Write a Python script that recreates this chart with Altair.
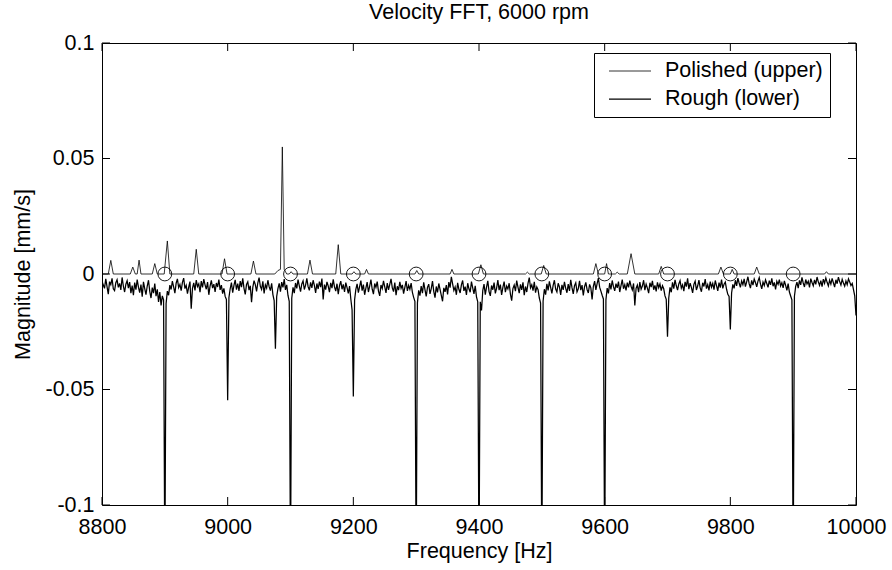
import altair as alt
import pandas as pd
import numpy as np

# ---------------- data ----------------
# Rough (lower) spectrum, sampled every 2 Hz from 8800 Hz, one row per 100 Hz
rough_rows = [
    [-0.0030,-0.0048,-0.0062,-0.0021,-0.0055,-0.0087,-0.0033,-0.0046,-0.0019,-0.0064,
     -0.0072,-0.0038,-0.0025,-0.0058,-0.0041,-0.0069,-0.0015,-0.0052,-0.0078,-0.0044,
     -0.0029,-0.0061,-0.0035,-0.0083,-0.0050,-0.0092,-0.0037,-0.0068,-0.0024,-0.0057,
     -0.0081,-0.0046,-0.0098,-0.0034,-0.0063,-0.0089,-0.0052,-0.0027,-0.0075,-0.0104,
     -0.0059,-0.0083,-0.0041,-0.0096,-0.0066,-0.0121,-0.0078,-0.0136,-0.0095,-0.0112],
    [-0.1300,-0.0128,-0.0074,-0.0092,-0.0048,-0.0067,-0.0031,-0.0056,-0.0083,-0.0040,
     -0.0021,-0.0059,-0.0045,-0.0072,-0.0036,-0.0018,-0.0063,-0.0049,-0.0085,-0.0057,
     -0.0033,-0.0150,-0.0062,-0.0038,-0.0071,-0.0026,-0.0054,-0.0043,-0.0079,-0.0031,
     -0.0058,-0.0022,-0.0047,-0.0066,-0.0035,-0.0090,-0.0052,-0.0028,-0.0061,-0.0044,
     -0.0077,-0.0039,-0.0056,-0.0024,-0.0069,-0.0048,-0.0085,-0.0062,-0.0097,-0.0110],
    [-0.0547,-0.0102,-0.0064,-0.0037,-0.0081,-0.0049,-0.0025,-0.0068,-0.0042,-0.0073,
     -0.0031,-0.0057,-0.0019,-0.0062,-0.0088,-0.0045,-0.0034,-0.0070,-0.0051,-0.0122,
     -0.0058,-0.0029,-0.0046,-0.0075,-0.0038,-0.0016,-0.0053,-0.0067,-0.0032,-0.0084,
     -0.0047,-0.0061,-0.0027,-0.0055,-0.0072,-0.0040,-0.0089,-0.0115,-0.0324,-0.0098,
     -0.0063,-0.0041,-0.0076,-0.0035,-0.0058,-0.0022,-0.0069,-0.0047,-0.0093,-0.0118],
    [-0.1300,-0.0105,-0.0058,-0.0083,-0.0039,-0.0062,-0.0024,-0.0051,-0.0076,-0.0043,
     -0.0030,-0.0067,-0.0048,-0.0019,-0.0055,-0.0071,-0.0036,-0.0060,-0.0027,-0.0049,
     -0.0082,-0.0041,-0.0065,-0.0033,-0.0057,-0.0020,-0.0110,-0.0046,-0.0068,-0.0034,
     -0.0052,-0.0079,-0.0038,-0.0061,-0.0023,-0.0056,-0.0074,-0.0042,-0.0087,-0.0050,
     -0.0031,-0.0066,-0.0045,-0.0078,-0.0037,-0.0059,-0.0084,-0.0052,-0.0108,-0.0155],
    [-0.0530,-0.0112,-0.0067,-0.0043,-0.0081,-0.0055,-0.0029,-0.0072,-0.0046,-0.0090,
     -0.0061,-0.0035,-0.0078,-0.0052,-0.0024,-0.0066,-0.0087,-0.0041,-0.0058,-0.0033,
     -0.0074,-0.0095,-0.0048,-0.0063,-0.0030,-0.0056,-0.0082,-0.0039,-0.0069,-0.0045,
     -0.0021,-0.0060,-0.0076,-0.0037,-0.0092,-0.0053,-0.0070,-0.0034,-0.0062,-0.0047,
     -0.0085,-0.0058,-0.0031,-0.0073,-0.0049,-0.0066,-0.0039,-0.0080,-0.0101,-0.0118],
    [-0.1300,-0.0125,-0.0071,-0.0094,-0.0052,-0.0083,-0.0036,-0.0068,-0.0097,-0.0058,
     -0.0044,-0.0086,-0.0063,-0.0031,-0.0075,-0.0102,-0.0054,-0.0080,-0.0041,-0.0067,
     -0.0093,-0.0118,-0.0060,-0.0077,-0.0048,-0.0088,-0.0035,-0.0059,-0.0012,-0.0043,
     -0.0071,-0.0056,-0.0090,-0.0038,-0.0066,-0.0082,-0.0047,-0.0028,-0.0073,-0.0055,
     -0.0091,-0.0040,-0.0064,-0.0079,-0.0033,-0.0060,-0.0086,-0.0051,-0.0099,-0.0121],
    [-0.1300,-0.0120,-0.0158,-0.0072,-0.0044,-0.0089,-0.0057,-0.0030,-0.0076,-0.0095,
     -0.0050,-0.0068,-0.0037,-0.0084,-0.0061,-0.0026,-0.0070,-0.0046,-0.0091,-0.0058,
     -0.0033,-0.0079,-0.0052,-0.0065,-0.0040,-0.0087,-0.0115,-0.0063,-0.0048,-0.0074,
     -0.0029,-0.0057,-0.0083,-0.0045,-0.0069,-0.0036,-0.0092,-0.0054,-0.0078,-0.0041,
     -0.0016,-0.0060,-0.0047,-0.0072,-0.0034,-0.0081,-0.0056,-0.0068,-0.0104,-0.0126],
    [-0.1300,-0.0118,-0.0066,-0.0089,-0.0043,-0.0071,-0.0032,-0.0058,-0.0084,-0.0049,
     -0.0027,-0.0065,-0.0078,-0.0040,-0.0056,-0.0091,-0.0047,-0.0069,-0.0034,-0.0062,
     -0.0081,-0.0044,-0.0073,-0.0025,-0.0059,-0.0086,-0.0051,-0.0038,-0.0077,-0.0064,
     -0.0030,-0.0070,-0.0048,-0.0093,-0.0055,-0.0036,-0.0067,-0.0082,-0.0045,-0.0060,
     -0.0110,-0.0053,-0.0031,-0.0069,-0.0042,-0.0018,-0.0057,-0.0074,-0.0092,-0.0108],
    [-0.1300,-0.0112,-0.0061,-0.0084,-0.0039,-0.0067,-0.0028,-0.0055,-0.0073,-0.0042,
     -0.0060,-0.0033,-0.0078,-0.0050,-0.0024,-0.0064,-0.0046,-0.0071,-0.0037,-0.0058,
     -0.0029,-0.0053,-0.0069,-0.0041,-0.0136,-0.0062,-0.0048,-0.0079,-0.0035,-0.0066,
     -0.0052,-0.0027,-0.0070,-0.0044,-0.0061,-0.0083,-0.0038,-0.0057,-0.0030,-0.0068,
     -0.0049,-0.0075,-0.0036,-0.0059,-0.0043,-0.0072,-0.0051,-0.0064,-0.0095,-0.0110],
    [-0.0272,-0.0104,-0.0058,-0.0079,-0.0036,-0.0063,-0.0025,-0.0051,-0.0070,-0.0043,
     -0.0029,-0.0061,-0.0047,-0.0074,-0.0034,-0.0055,-0.0019,-0.0066,-0.0040,-0.0058,
     -0.0082,-0.0045,-0.0031,-0.0069,-0.0052,-0.0026,-0.0060,-0.0077,-0.0038,-0.0054,
     -0.0022,-0.0063,-0.0046,-0.0071,-0.0033,-0.0057,-0.0041,-0.0068,-0.0028,-0.0050,
     -0.0073,-0.0037,-0.0059,-0.0024,-0.0062,-0.0044,-0.0035,-0.0066,-0.0088,-0.0097],
    [-0.0240,-0.0082,-0.0045,-0.0062,-0.0027,-0.0051,-0.0018,-0.0039,-0.0058,-0.0030,
     -0.0046,-0.0021,-0.0055,-0.0034,-0.0012,-0.0043,-0.0061,-0.0028,-0.0048,-0.0022,
     -0.0037,-0.0056,-0.0031,-0.0016,-0.0044,-0.0064,-0.0035,-0.0050,-0.0025,-0.0041,
     -0.0058,-0.0029,-0.0047,-0.0019,-0.0053,-0.0036,-0.0067,-0.0032,-0.0045,-0.0024,
     -0.0052,-0.0038,-0.0060,-0.0030,-0.0049,-0.0071,-0.0042,-0.0078,-0.0095,-0.0112],
    [-0.1300,-0.0096,-0.0054,-0.0035,-0.0061,-0.0028,-0.0047,-0.0015,-0.0039,-0.0056,
     -0.0024,-0.0043,-0.0031,-0.0058,-0.0020,-0.0037,-0.0051,-0.0026,-0.0045,-0.0013,
     -0.0034,-0.0049,-0.0029,-0.0055,-0.0022,-0.0040,-0.0017,-0.0036,-0.0052,-0.0027,
     -0.0044,-0.0019,-0.0038,-0.0057,-0.0025,-0.0042,-0.0014,-0.0033,-0.0048,-0.0023,
     -0.0039,-0.0053,-0.0030,-0.0046,-0.0021,-0.0035,-0.0050,-0.0041,-0.0068,-0.0095],
]
rough_last = -0.0180  # value at 10000 Hz

# Polished (upper) spectrum: baseline with narrow peaks
polished_freq = [8800, 8810, 8814, 8818, 8845, 8849, 8853, 8856, 8859, 8862, 8880, 8884, 8888,
                 8899, 8904, 8908, 8946, 8950, 8954, 8991, 8995, 8999, 9037, 9041, 9045,
                 9075, 9080, 9084, 9087, 9090, 9094, 9098, 9101, 9104, 9127, 9131, 9135,
                 9172, 9176, 9180, 9198, 9201, 9204, 9218, 9221, 9224, 9298, 9301, 9304,
                 9354, 9357, 9360, 9399, 9403, 9407, 9474, 9477, 9480, 9499, 9503, 9507,
                 9582, 9586, 9590, 9600, 9603, 9606, 9617, 9620, 9623, 9636, 9642, 9648,
                 9686, 9690, 9694, 9781, 9785, 9789, 9800, 9803, 9806, 9838, 9842, 9846,
                 9950, 9953, 9956, 10000]
polished_mag = [0, 0, 0.0059, 0, 0, 0.0030, 0, 0, 0.0060, 0, 0, 0.0045, 0,
                0, 0.0143, 0, 0, 0.0107, 0, 0, 0.0066, 0, 0, 0.0056, 0,
                0, 0.0015, 0.0020, 0.0550, 0.0020, 0, 0, 0.0010, 0, 0, 0.0060, 0,
                0, 0.0127, 0, 0, 0.0010, 0, 0, 0.0020, 0, 0, 0.0015, 0,
                0, 0.0020, 0, 0, 0.0040, 0, 0, 0.0008, 0, 0, 0.0037, 0,
                0, 0.0045, 0, 0, 0.0045, 0, 0, 0.0008, 0, 0, 0.0088, 0,
                0, 0.0033, 0, 0, 0.0030, 0, 0, 0.0020, 0, 0, 0.0030, 0,
                0, 0.0010, 0, 0]

# Harmonic markers (circles)
harmonic_freq = [8900, 9000, 9100, 9200, 9300, 9400, 9500, 9600, 9700, 9800, 9900]
harmonic_mag = [0] * len(harmonic_freq)

x_ticks = [8800, 9000, 9200, 9400, 9600, 9800, 10000]
y_ticks = [-0.1, -0.05, 0, 0.05, 0.1]

# ---------------- tables ----------------
rough_vals = [v for row in rough_rows for v in row] + [rough_last]
rough_freq = list(np.arange(8800, 10001, 2))
series_names = ["Polished (upper)", "Rough (lower)"]

lines_df = pd.concat([
    pd.DataFrame({"freq": polished_freq, "mag": polished_mag, "series": series_names[0]}),
    pd.DataFrame({"freq": rough_freq, "mag": rough_vals, "series": series_names[1]}),
])
harm_df = pd.DataFrame({"freq": harmonic_freq, "mag": harmonic_mag})
xt_df = pd.DataFrame({"freq": x_ticks})
yt_df = pd.DataFrame({"mag": y_ticks})

FONT = "Liberation Sans"
FS = 21.5
W, H = 754, 462

xs = alt.Scale(domain=[8800, 10000], nice=False, zero=False)
ys = alt.Scale(domain=[-0.1, 0.1], nice=False, zero=False)

x_axis = alt.Axis(values=x_ticks, format="d", title="Frequency [Hz]", ticks=False, domain=False,
                  grid=False, labelPadding=11, titlePadding=3, labelFlush=False)
y_axis = alt.Axis(values=y_ticks, title="Magnitude [mm/s]", ticks=False, domain=False, grid=False,
                  labelPadding=8, titlePadding=10, labelFlush=False,
                  labelExpr="replace(format(datum.value, '~g'), '\u2212', '-')")

lines = alt.Chart(lines_df).mark_line(clip=True, interpolate="linear").encode(
    x=alt.X("freq:Q", scale=xs, axis=x_axis),
    y=alt.Y("mag:Q", scale=ys, axis=y_axis),
    color=alt.Color("series:N",
                    scale=alt.Scale(domain=series_names, range=["#000000", "#000000"]),
                    legend=alt.Legend(title=None, orient="none", legendX=492, legendY=10,
                                      symbolType="stroke", symbolSize=1764, symbolStrokeWidth=1,
                                      clipHeight=22, labelOffset=13, padding=7, symbolOffset=7,
                                      rowPadding=6, strokeColor="black", fillColor="white",
                                      cornerRadius=0, labelFont=FONT, labelFontSize=FS,
                                      labelColor="black",
                                      labelExpr="datum.label + '\u00a0\u00a0\u00a0'")),
    strokeWidth=alt.StrokeWidth("series:N", scale=alt.Scale(domain=series_names, range=[0.8, 1.25]),
                                legend=None),
    detail="series:N",
    order="freq:Q",
)

circles = alt.Chart(harm_df).mark_point(shape="circle", filled=False, size=190, color="black",
                                        strokeWidth=0.9, opacity=1).encode(
    x=alt.X("freq:Q", scale=xs), y=alt.Y("mag:Q", scale=ys))

tick_len = 8
bot = alt.Chart(xt_df).mark_tick(orient="vertical", size=tick_len, thickness=1, color="black",
                                 opacity=1, yOffset=-tick_len / 2).encode(
    x=alt.X("freq:Q", scale=xs), y=alt.datum(-0.1))
top = alt.Chart(xt_df).mark_tick(orient="vertical", size=tick_len, thickness=1, color="black",
                                 opacity=1, yOffset=tick_len / 2).encode(
    x=alt.X("freq:Q", scale=xs), y=alt.datum(0.1))
left = alt.Chart(yt_df).mark_tick(orient="horizontal", size=tick_len, thickness=1, color="black",
                                  opacity=1, xOffset=tick_len / 2).encode(
    y=alt.Y("mag:Q", scale=ys), x=alt.datum(8800))
right = alt.Chart(yt_df).mark_tick(orient="horizontal", size=tick_len, thickness=1, color="black",
                                   opacity=1, xOffset=-tick_len / 2).encode(
    y=alt.Y("mag:Q", scale=ys), x=alt.datum(10000))

chart = alt.layer(lines, circles, bot, top, left, right).properties(
    width=W, height=H,
    background="white",
    title=alt.TitleParams("Velocity FFT, 6000 rpm", font=FONT, fontSize=FS, fontWeight="normal",
                          color="black", offset=9),
    autosize=alt.AutoSizeParams(type="none"),
    padding={"left": 102, "top": 43, "right": 36, "bottom": 65},
).configure_view(stroke="black", strokeWidth=1).configure_axis(
    labelFont=FONT, labelFontSize=FS, labelColor="black",
    titleFont=FONT, titleFontSize=FS, titleColor="black", titleFontWeight="normal",
)

chart.save("out.html", embed_options={"renderer": "svg", "actions": False})
